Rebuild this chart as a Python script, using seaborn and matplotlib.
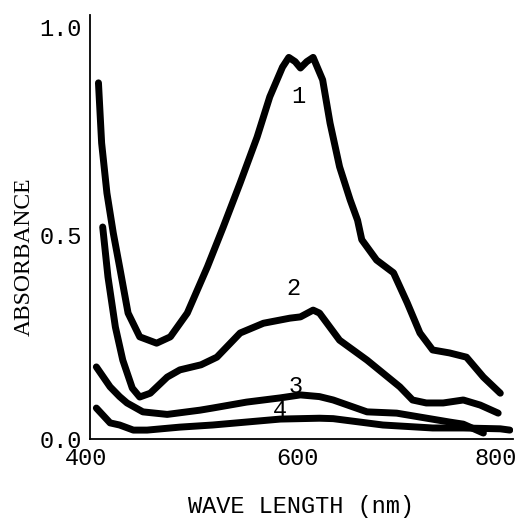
import matplotlib
matplotlib.use("Agg")
import matplotlib.pyplot as plt
import matplotlib.transforms as mtransforms
import seaborn as sns
import pandas as pd

# --- data ---
wl1 = [408, 411, 416, 422, 428, 436, 447, 463, 476, 492, 511, 526, 542, 558, 570, 582,
       588, 594, 599, 605, 611, 620, 627, 636, 646, 653, 657, 671, 687, 700, 712, 724,
       740, 756, 772, 788]
a1 = [0.84, 0.698, 0.58, 0.486, 0.406, 0.297, 0.241, 0.226, 0.241, 0.297, 0.406, 0.50,
      0.604, 0.712, 0.807, 0.877, 0.90, 0.89, 0.875, 0.89, 0.90, 0.847, 0.745, 0.642,
      0.564, 0.516, 0.47, 0.422, 0.392, 0.321, 0.25, 0.21, 0.203, 0.193, 0.146, 0.108]

wl2 = [412, 417, 424, 431, 440, 447, 457, 473, 485, 505, 520, 542, 564, 589, 599, 611,
       617, 636, 662, 693, 705, 718, 734, 753, 769, 786]
a2 = [0.50, 0.382, 0.264, 0.186, 0.12, 0.099, 0.108, 0.146, 0.163, 0.175, 0.193, 0.25,
      0.273, 0.285, 0.288, 0.304, 0.297, 0.233, 0.186, 0.123, 0.092, 0.085, 0.085, 0.092,
      0.08, 0.061]

wl3 = [406, 419, 428, 435, 450, 473, 504, 516, 548, 580, 599, 617, 630, 662, 690, 740, 753, 772]
a3 = [0.17, 0.123, 0.10, 0.085, 0.064, 0.058, 0.068, 0.073, 0.087, 0.097, 0.104, 0.10, 0.092,
      0.064, 0.061, 0.04, 0.035, 0.014]

wl4 = [406, 419, 428, 441, 454, 485, 516, 548, 580, 617, 630, 677, 724, 753, 788, 797]
a4 = [0.073, 0.038, 0.033, 0.021, 0.021, 0.028, 0.033, 0.04, 0.047, 0.049, 0.048, 0.033,
      0.026, 0.026, 0.024, 0.021]

curve_names = ["1", "2", "3", "4"]
label_x = [597, 592, 594, 580]
label_y = [0.807, 0.356, 0.123, 0.068]

x_ticks = [400, 600, 800]
y_ticks = [0.0, 0.5, 1.0]
y_tick_labels = ["0.0", "0.5", "1.0"]

# --- build long-form table ---
frames = []
for name, xs, ys in zip(curve_names, [wl1, wl2, wl3, wl4], [a1, a2, a3, a4]):
    frames.append(pd.DataFrame({"wavelength": xs, "absorbance": ys, "curve": name}))
df = pd.concat(frames, ignore_index=True)

sns.set_theme(style="white")
plt.rcParams["font.family"] = ["Liberation Mono", "DejaVu Sans Mono"]

fig = plt.figure(figsize=(5.26, 5.18), dpi=100)
ax = fig.add_axes([90 / 526, 1 - 439 / 518, 423 / 526, 424 / 518])

sns.lineplot(data=df, x="wavelength", y="absorbance", hue="curve",
             palette=["black"] * 4, linewidth=5, legend=False,
             estimator=None, sort=False, ax=ax)
for line in ax.get_lines():
    line.set_solid_capstyle("round")
    line.set_solid_joinstyle("round")

for name, lx, ly in zip(curve_names, label_x, label_y):
    ax.text(lx, ly, name, ha="center", va="center", fontsize=17,
            family=["Liberation Mono"], color="black")

ax.set_xlim(400, 800)
ax.set_ylim(0, 1.0)
ax.set_xticks(x_ticks)
ax.set_xticklabels([str(v) for v in x_ticks])
ax.set_yticks(y_ticks)
ax.set_yticklabels(y_tick_labels)
ax.tick_params(direction="in", length=8, width=1.3, labelsize=17, colors="black", pad=6)

# nudge tick labels as in the hand-lettered original
for lab, dx in zip(ax.get_xticklabels(), [-4, -4, -17]):
    lab.set_transform(lab.get_transform() + mtransforms.ScaledTranslation(dx / 100, 0, fig.dpi_scale_trans))
for lab, dy in zip(ax.get_yticklabels(), [0, -8, -12]):
    lab.set_transform(lab.get_transform() + mtransforms.ScaledTranslation(0, dy / 100, fig.dpi_scale_trans))

for s in ["top", "right"]:
    ax.spines[s].set_visible(False)
for s in ["left", "bottom"]:
    ax.spines[s].set_color("black")
    ax.spines[s].set_linewidth(1.3)

ax.set_xlabel("WAVE LENGTH (nm)", fontsize=17, labelpad=18, color="black")
ax.set_ylabel("ABSORBANCE", fontsize=17, family=["Liberation Serif"], color="black")
ax.yaxis.set_label_coords(-0.13, 0.43)

fig.savefig("out.png", dpi=100, facecolor="white")
